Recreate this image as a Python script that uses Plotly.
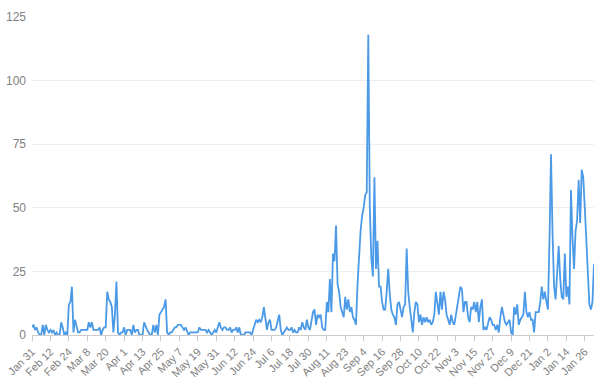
import pandas as pd
import plotly.graph_objects as go

start_date = "2017-01-31"

jan_tail = [3]
feb = [4, 2, 3, 1, 0, 0, 4, 0, 4, 2, 1, 2, 1, 2, 0, 1, 0, 0, 5, 3, 0, 1, 0, 12, 13, 19, 1, 6]
mar = [4, 1, 1, 2, 2, 2, 2, 2, 5, 3, 5, 2, 2, 2, 2, 3, 0, 2, 3, 3, 17, 14, 13, 11, 1, 8, 21, 1, 0, 1, 1]
apr = [3, 0, 2, 2, 2, 0, 4, 1, 2, 2, 0, 0, 0, 5, 3, 2, 1, 0, 0, 4, 1, 4, 0, 8, 9, 10, 11, 14, 1, 0]
may = [1, 1, 2, 3, 3, 4, 4, 4, 3, 2, 3, 1, 0, 1, 1, 1, 1, 1, 1, 3, 2, 2, 2, 2, 1, 2, 1, 0, 1, 2, 1]
jun = [3, 5, 3, 2, 3, 3, 2, 2, 3, 1, 2, 2, 3, 1, 3, 0, 0, 0, 1, 1, 1, 1, 0, 2, 3, 6, 5, 6, 5, 7]
jul = [11, 6, 2, 5, 6, 2, 2, 2, 3, 6, 8, 2, 0, 1, 2, 3, 2, 2, 3, 1, 2, 1, 1, 3, 2, 5, 3, 2, 6, 3, 2]
aug = [6, 9, 10, 4, 8, 7, 8, 3, 2, 2, 13, 9, 22, 9, 32, 29, 43, 20, 17, 11, 9, 7, 15, 10, 14, 9, 11, 7, 6, 4, 20]
sep = [33, 41, 47, 50, 55, 56, 118, 50, 30, 23, 62, 26, 37, 19, 19, 13, 10, 10, 17, 26, 16, 10, 8, 7, 4, 12, 13, 10, 7, 11]
oct_ = [12, 34, 17, 11, 7, 1, 9, 13, 12, 5, 8, 4, 7, 5, 7, 5, 6, 4, 5, 8, 17, 12, 8, 17, 10, 17, 14, 8, 6, 4, 8]
nov = [5, 4, 8, 12, 16, 19, 18, 9, 13, 13, 7, 5, 11, 10, 13, 9, 13, 5, 11, 14, 2, 3, 2, 5, 7, 6, 4, 4, 2, 4]
dec = [1, 7, 11, 8, 5, 4, 5, 6, 1, 0, 11, 8, 12, 4, 6, 7, 8, 17, 9, 7, 9, 6, 6, 1, 9, 9, 9, 13, 19, 14, 17]
jan_next = [13, 10, 37, 71, 40, 19, 14, 24, 35, 22, 15, 14, 32, 15, 19, 12, 57, 38, 26, 41, 45, 61, 44, 65, 62, 50, 38, 25, 12, 10, 13]
feb_next = [28]

values = jan_tail + feb + mar + apr + may + jun + jul + aug + sep + oct_ + nov + dec + jan_next + feb_next
dates = pd.date_range(start_date, periods=len(values), freq="D")
date_strs = [d.strftime("%Y-%m-%d") for d in dates]

y_ticks = [0, 25, 50, 75, 100, 125]

fig = go.Figure()
fig.add_trace(go.Scatter(
    x=date_strs, y=values, mode="lines",
    line=dict(color="#4b9ae8", width=1.8),
    hoverinfo="skip", cliponaxis=False,
))

fig.update_layout(
    width=604, height=385,
    margin=dict(l=32, r=10, t=17, b=50, autoexpand=False),
    paper_bgcolor="white", plot_bgcolor="white",
    showlegend=False,
    font=dict(family="Liberation Sans, Arial, sans-serif", size=11, color="#808080"),
)
fig.update_xaxes(
    automargin=False,
    range=[date_strs[0], date_strs[-1]],
    tick0=start_date, dtick=12 * 86400000,
    tickformat="%b %-d", tickangle=-45,
    showgrid=False, showline=True, linecolor="#ccc", linewidth=1,
    ticks="outside", ticklen=5, tickcolor="#ccc",
    tickfont=dict(size=11, color="#808080"),
)
fig.update_yaxes(
    automargin=False,
    range=[0, 125], tickvals=y_ticks,
    showgrid=True, gridcolor="#eeeeee", gridwidth=1,
    zeroline=False, showline=False,
    tickfont=dict(size=12, color="#808080"),
    ticklabelstandoff=5,
)

fig.write_html(
    "out.html",
    config={"displayModeBar": False, "staticPlot": True},
    post_script="document.body.style.margin='0';document.body.style.overflow='hidden';",
)
